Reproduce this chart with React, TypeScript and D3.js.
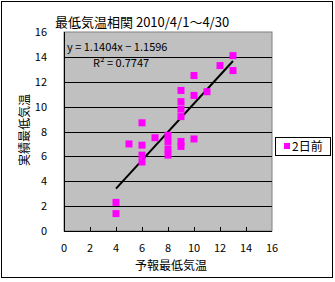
import React, { useEffect, useRef } from "react";
import * as d3 from "d3";

// forecast min temp (x) vs observed min temp (y), 2 days ahead
const forecastX = [4, 4, 5, 6, 6, 6, 6, 7, 8, 8, 8, 8, 9, 9, 9, 9, 9, 9, 10, 10, 10, 11, 12, 13, 13];
const actualY = [2.3, 1.4, 7.0, 8.7, 6.9, 6.1, 5.55, 7.5, 7.7, 7.2, 6.6, 6.1, 11.3, 10.4, 9.8, 9.2, 7.2, 6.8, 12.5, 10.9, 7.4, 11.2, 13.3, 14.1, 12.9];
const axisTicks = [0, 2, 4, 6, 8, 10, 12, 14, 16];
const slope = 1.1404;
const intercept = -1.1596;

const title = "最低気温相関 2010/4/1～4/30";
const xTitle = "予報最低気温";
const yTitle = "実績最低気温";
const seriesName = "2日前";

function App() {
  const ref = useRef<SVGSVGElement>(null);

  useEffect(() => {
    const svg = d3.select(ref.current);
    svg.selectAll("*").remove();
    const font = "'Noto Sans CJK JP', sans-serif";

    // outer frame
    svg.append("rect")
      .attr("x", 1.5).attr("y", 1.5)
      .attr("width", 331).attr("height", 276)
      .attr("fill", "#fff").attr("stroke", "#000");

    var x = d3.scaleLinear().domain([0, 16]).range([64, 272]);
    var y = d3.scaleLinear().domain([0, 16]).range([231, 32]);

    // plot area
    svg.append("rect")
      .attr("x", x(0)).attr("y", y(16))
      .attr("width", x(16) - x(0)).attr("height", y(0) - y(16))
      .attr("fill", "#c0c0c0").attr("stroke", "#808080");

    // gridlines
    svg.append("g").selectAll("line")
      .data(axisTicks.filter(d => d > 0 && d < 16))
      .enter().append("line")
      .attr("x1", x(0)).attr("x2", x(16))
      .attr("y1", d => Math.round(y(d)) + 0.5).attr("y2", d => Math.round(y(d)) + 0.5)
      .attr("stroke", "#000");

    // axes lines
    svg.append("line")
      .attr("x1", x(0) + 0.5).attr("x2", x(0) + 0.5)
      .attr("y1", y(16)).attr("y2", y(0) + 0.5)
      .attr("stroke", "#000");
    svg.append("line")
      .attr("x1", x(0)).attr("x2", x(16))
      .attr("y1", Math.round(y(0)) + 0.5).attr("y2", Math.round(y(0)) + 0.5)
      .attr("stroke", "#000");

    // x tick marks (inside)
    svg.append("g").selectAll("line")
      .data(axisTicks.slice(1, -1))
      .enter().append("line")
      .attr("x1", d => Math.round(x(d)) + 0.5).attr("x2", d => Math.round(x(d)) + 0.5)
      .attr("y1", y(0)).attr("y2", y(0) - 4)
      .attr("stroke", "#000");

    // tick labels
    svg.append("g").selectAll("text")
      .data(axisTicks)
      .enter().append("text")
      .attr("x", d => x(d)).attr("y", 252)
      .attr("text-anchor", "middle")
      .style("font", "11px " + font)
      .text(d => d);
    svg.append("g").selectAll("text")
      .data(axisTicks)
      .enter().append("text")
      .attr("x", 47).attr("y", d => y(d) + 4)
      .attr("text-anchor", "end")
      .style("font", "11px " + font)
      .text(d => d);

    // trendline from min to max x
    var xmin = d3.min(forecastX), xmax = d3.max(forecastX);
    svg.append("line")
      .attr("x1", x(xmin)).attr("y1", y(slope * xmin + intercept))
      .attr("x2", x(xmax)).attr("y2", y(slope * xmax + intercept))
      .attr("stroke", "#000").attr("stroke-width", 2);

    // points
    svg.append("g").selectAll("rect")
      .data(forecastX.map((d, i) => [d, actualY[i]]))
      .enter().append("rect")
      .attr("x", d => x(d[0]) - 3.5).attr("y", d => y(d[1]) - 3.5)
      .attr("width", 7).attr("height", 7)
      .attr("fill", "#ff00ff");

    // equation
    svg.append("text")
      .attr("x", 67).attr("y", 51)
      .style("font", "11px " + font)
      .text("y = " + slope + "x \u2212 " + Math.abs(intercept));
    svg.append("text")
      .attr("x", 93).attr("y", 67)
      .style("font", "11px " + font)
      .text("R\u00b2 = 0.7747");

    // titles
    svg.append("text")
      .attr("x", 55).attr("y", 27)
      .style("font", "13px " + font)
      .text(title);
    svg.append("text")
      .attr("x", 171).attr("y", 270)
      .attr("text-anchor", "middle")
      .style("font", "12px " + font)
      .text(xTitle);
    svg.append("text")
      .attr("transform", "translate(29,130) rotate(-90)")
      .attr("text-anchor", "middle")
      .style("font", "12px " + font)
      .text(yTitle);

    // legend
    svg.append("rect")
      .attr("x", 275.5).attr("y", 137.5)
      .attr("width", 55).attr("height", 18)
      .attr("fill", "#fff").attr("stroke", "#000");
    svg.append("rect")
      .attr("x", 284).attr("y", 143)
      .attr("width", 6).attr("height", 6)
      .attr("fill", "#ff00ff");
    svg.append("text")
      .attr("x", 292).attr("y", 151)
      .style("font", "12px " + font)
      .text(seriesName);
  }, []);

  return <svg
    ref={ref}
    width={335}
    height={282}
    style={{ position: "absolute", left: 0, top: 0 }}
  />;
}

export default App;
